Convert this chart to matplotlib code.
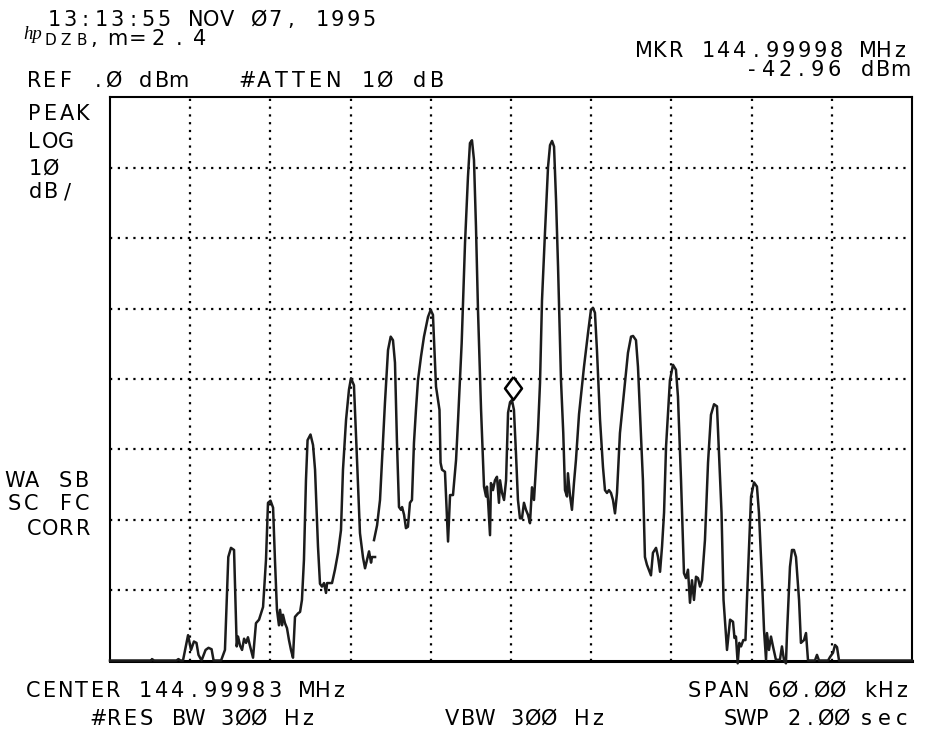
import matplotlib
matplotlib.use("Agg")
import matplotlib.pyplot as plt
import matplotlib.transforms as mtransforms

# spectrum trace, offset from centre frequency (kHz) vs level (dBm)
# the analyzer trace has a small break near -10 kHz, so two pieces
seg_a_khz = [-30.0, -26.9, -26.86, -26.7, -25.03, -24.88, -24.73, -24.54, -24.16, -23.94,
             -23.72, -23.53, -23.38, -23.15, -22.85, -22.63, -22.40, -22.25, -21.69, -21.40,
             -21.15, -20.95, -20.72, -20.52, -20.42, -20.27, -20.12, -19.97, -19.82, -19.68,
             -19.53, -19.30, -19.08, -18.85, -18.55, -18.33, -18.18, -17.99, -17.80, -17.66,
             -17.51, -17.36, -17.28, -17.13, -17.06, -16.91, -16.76, -16.61, -16.46, -16.31,
             -16.16, -15.93, -15.78, -15.64, -15.49, -15.34, -15.22, -15.00, -14.81, -14.66,
             -14.44, -14.29, -14.14, -13.99, -13.84, -13.76, -13.54, -13.39, -13.17, -12.94,
             -12.72, -12.57, -12.34, -12.12, -11.97, -11.75, -11.52, -11.30, -11.07, -10.92,
             -10.77, -10.62, -10.47, -10.40, -10.17]
seg_a_dbm = [-80.0, -80.0, -79.8, -80.0, -80.0, -79.8, -80.0, -80.0, -76.4, -78.5,
             -77.3, -77.5, -79.2, -80.0, -78.5, -78.2, -78.4, -80.0, -80.0, -78.5,
             -65.3, -64.0, -64.3, -78.0, -76.6, -77.9, -78.5, -76.9, -77.5, -76.7,
             -77.9, -79.6, -74.7, -74.2, -72.4, -65.7, -57.6, -57.3, -58.3, -65.7,
             -72.8, -75.0, -72.8, -75.0, -73.5, -74.7, -75.4, -77.1, -78.5, -79.6,
             -73.8, -73.3, -73.1, -71.4, -65.7, -54.4, -48.7, -47.9, -49.4, -52.9,
             -63.8, -69.1, -69.5, -69.0, -70.4, -69.0, -69.0, -69.0, -67.1, -64.7,
             -61.5, -52.9, -45.8, -41.5, -39.9, -40.9, -51.5, -61.9, -65.4, -66.9,
             -65.7, -64.5, -66.1, -65.3, -65.3]

seg_b_khz = [-10.25, -10.02, -9.80, -9.65, -9.43, -9.20, -9.00, -8.83, -8.68, -8.53,
             -8.38, -8.23, -8.15, -8.00, -7.86, -7.71, -7.56, -7.41, -7.26, -7.11,
             -6.96, -6.73, -6.51, -6.21, -6.01, -5.84, -5.61, -5.35, -5.27, -5.16,
             -4.94, -4.71, -4.56, -4.34, -4.11, -3.96, -3.69, -3.44, -3.22, -3.07,
             -2.92, -2.77, -2.62, -2.47, -2.24, -2.02, -1.87, -1.80, -1.72, -1.57,
             -1.50, -1.35, -1.20, -1.05, -0.90, -0.82, -0.67, -0.52, -0.37, -0.22,
             -0.07, 0.07, 0.22, 0.37, 0.52, 0.67, 0.82, 0.97, 1.12, 1.27,
             1.42, 1.57, 1.72, 1.87, 2.02, 2.17, 2.32, 2.54, 2.77, 2.92,
             3.07, 3.22, 3.37, 3.52, 3.74, 3.91, 4.04, 4.19, 4.26, 4.41,
             4.56, 4.71, 4.86, 5.09, 5.46, 5.76, 5.98, 6.13, 6.28, 6.43,
             6.66, 6.88, 7.03, 7.18, 7.33, 7.48, 7.63, 7.78, 7.93, 8.15,
             8.45, 8.75, 8.98, 9.13, 9.35, 9.50, 9.87, 10.02, 10.17, 10.47,
             10.62, 10.85, 11.00, 11.15, 11.30, 11.45, 11.60, 11.75, 11.89, 12.12,
             12.34, 12.49, 12.72, 12.94, 13.09, 13.24, 13.39, 13.54, 13.69, 13.84,
             13.99, 14.14, 14.29, 14.51, 14.74, 14.96, 15.19, 15.41, 15.75, 15.90,
             16.16, 16.39, 16.61, 16.72, 16.83, 16.96, 17.08, 17.21, 17.38, 17.54,
             17.73, 17.96, 18.18, 18.40, 18.55, 18.78, 18.93, 19.08, 19.15, 19.30,
             19.45, 19.60, 19.82, 20.12, 20.27, 20.42, 20.57, 20.65, 20.87, 21.02,
             21.17, 21.32, 21.55, 21.69, 21.92, 22.07, 22.22, 22.74, 22.89, 23.04,
             23.72, 23.87, 24.09, 24.24, 24.39, 24.54, 30.0]
seg_b_dbm = [-62.9, -60.8, -57.2, -51.5, -43.4, -35.9, -34.0, -34.5, -37.7, -49.1,
             -58.2, -58.6, -58.2, -59.3, -61.2, -61.0, -57.6, -57.2, -49.1, -44.4,
             -40.2, -36.8, -34.0, -31.2, -30.2, -30.9, -41.1, -44.4, -51.9, -52.9,
             -53.2, -63.1, -56.5, -56.5, -51.5, -45.8, -34.9, -20.7, -11.3, -6.5,
             -6.1, -8.9, -18.4, -30.2, -44.4, -55.3, -56.7, -55.3, -57.2, -62.2,
             -54.8, -55.8, -54.4, -53.9, -57.6, -54.4, -56.2, -57.2, -54.4, -44.8,
             -43.3, -43.0, -44.4, -50.5, -57.2, -59.8, -59.8, -57.6, -58.6, -59.3,
             -60.5, -55.4, -57.2, -52.5, -47.3, -40.6, -28.8, -19.3, -9.9, -6.8,
             -6.2, -7.0, -14.6, -24.1, -40.2, -47.7, -55.8, -56.7, -53.4, -56.5,
             -58.6, -54.8, -51.5, -45.0, -38.3, -33.5, -30.2, -29.9, -30.6, -35.9,
             -45.8, -52.5, -55.8, -56.2, -55.8, -56.2, -57.2, -59.1, -56.2, -47.7,
             -42.0, -36.3, -34.0, -33.9, -34.5, -38.3, -54.4, -65.3, -66.4, -67.9,
             -64.7, -64.0, -65.3, -67.4, -63.8, -59.0, -49.6, -44.8, -40.2, -38.0,
             -38.7, -42.5, -54.4, -67.6, -68.3, -67.1, -71.8, -68.6, -71.4, -68.1,
             -68.3, -69.5, -68.6, -62.9, -51.9, -45.1, -43.6, -43.9, -59.0, -71.4,
             -78.5, -74.2, -74.5, -76.8, -76.6, -80.4, -77.5, -78.0, -77.1, -77.1,
             -67.6, -56.7, -54.7, -55.3, -59.0, -68.6, -75.7, -79.9, -76.1, -78.5,
             -76.6, -78.0, -79.9, -79.9, -78.0, -79.9, -80.4, -76.1, -66.7, -64.3,
             -64.3, -65.3, -71.4, -77.5, -77.1, -76.1, -80.0, -80.0, -79.2, -80.0,
             -80.0, -79.5, -78.9, -77.8, -78.1, -80.0, -80.0]

marker_khz = 0.15
marker_dbm = -42.96

span_khz = 60.0
ref_dbm = 0.0
db_per_div = 10

W, H = 944, 729
FONT = "DejaVu Sans"

fig = plt.figure(figsize=(W / 100, H / 100), dpi=100)
ax = fig.add_axes([110 / W, (H - 660.5) / H, 802 / W, 563.2 / H])
ax.set_xlim(-span_khz / 2, span_khz / 2)
ax.set_ylim(ref_dbm - 8 * db_per_div, ref_dbm)
ax.set_xticks([])
ax.set_yticks([])
for s in ax.spines.values():
    s.set_linewidth(1.5)
ax.spines["bottom"].set_linewidth(2.2)

# dotted graticule
for i in range(1, 10):
    ax.axvline(-span_khz / 2 + i * span_khz / 10, color="black", lw=1.6,
               ls=(0, (1, 2.5)), zorder=1)
for i in range(1, 8):
    ax.axhline(ref_dbm - i * db_per_div, color="black", lw=1.6,
               ls=(0, (1, 2.5)), zorder=1)

ax.plot(seg_a_khz, seg_a_dbm, color="#1c1c1c", lw=1.8, clip_on=False, zorder=3)
ax.plot(seg_b_khz, seg_b_dbm, color="#1c1c1c", lw=1.8, clip_on=False, zorder=3)

# marker diamond sits just above the trace point
diamond = [(0, 1), (0.74, 0), (0, -1), (-0.74, 0), (0, 1)]
up = mtransforms.offset_copy(ax.transData, fig=fig, x=0, y=12, units="dots")
ax.plot([marker_khz], [marker_dbm], marker=diamond, markersize=16.5, mfc="white",
        mec="black", mew=1.8, transform=up, clip_on=False, zorder=4)


def mono(s, x0, x1, base, size=15):
    # fixed pitch text like the analyzer's screen font
    pitch = (x1 - x0) / len(s)
    for i, ch in enumerate(s):
        if ch.strip():
            fig.text((x0 + (i + 0.5) * pitch) / W, 1 - base / H, ch, ha="center",
                     va="baseline", fontsize=size, family=FONT, color="black")


mono("13:13:55 NOV Ø7, 1995", 46, 377, 26)
fig.text(23 / W, 1 - 39 / H, "hp", fontsize=13.5, family="Liberation Serif",
         style="italic", color="black")
mono("DZB", 43, 89, 45, size=11)
mono(",", 89, 99, 45)
mono("m=2.4", 107, 210, 45)
mono("REF .Ø dBm", 26, 186, 87)
mono("#ATTEN 1Ø dB", 238, 446, 87)
mono("MKR 144.99998 MHz", 636, 908, 57)
mono("-42.96 dBm", 744, 908, 76)

mono("PEAK", 26, 91, 120)
mono("LOG", 26, 74, 148)
mono("1Ø", 27, 59, 175)
mono("dB/", 27, 75, 198)
mono("WA SB", 6, 91, 487)
mono("SC FC", 6, 91, 510)
mono("CORR", 26, 91, 535)

mono("CENTER 144.99983 MHz", 25, 347, 697)
mono("SPAN 6Ø.ØØ kHz", 686, 910, 697)
mono("#RES BW 3ØØ Hz", 90, 316, 725)
mono("VBW 3ØØ Hz", 444, 606, 725)
mono("SWP 2.ØØ", 722, 850, 725)
mono("sec", 858, 910, 725)

fig.savefig("out.png", dpi=100)
